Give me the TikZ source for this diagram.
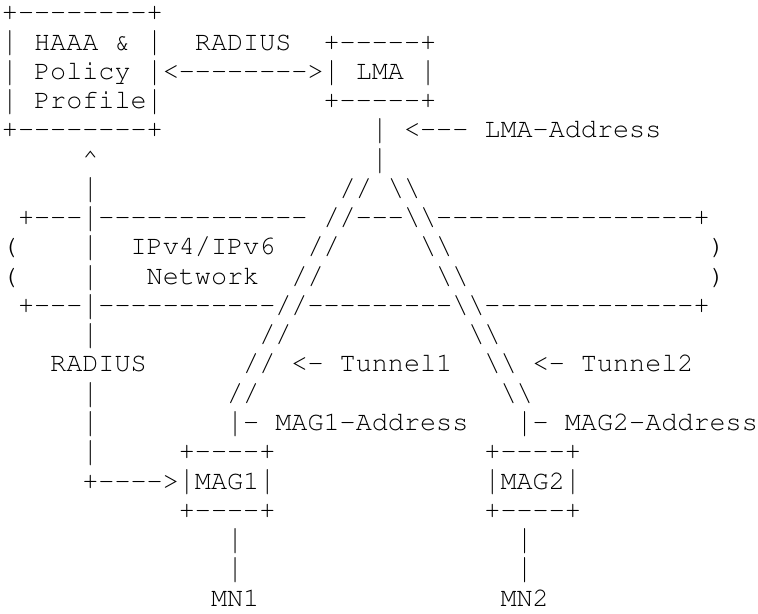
\documentclass[tikz,border=0pt]{standalone}
\usepackage[T1]{fontenc}
\usepackage{courier}
\usetikzlibrary{positioning}
\newcommand{\asciifont}{\fontsize{26.8pt}{29.26pt}\selectfont\ttfamily\frenchspacing}
\newcommand{\dbs}{\textbackslash\textbackslash}
% hyphens one by one, so that no -- ligature is formed
\newcommand{\dashes}[1]{\foreach \k in {1,...,#1}{-}}
% a bar that runs over nearly the whole line, as in the printed figure
\newcommand{\vbar}{\raisebox{-0.07em}[0.74em][0.2em]{\scalebox{1}[1.3]{|}}}

\begin{document}
\begin{tikzpicture}[x=16.08pt, y=-29.26pt,
    chars/.style={anchor=base west, inner sep=0pt, outer sep=0pt, font=\asciifont}
]
    \useasboundingbox (-0.124,-0.711) rectangle (47.01,20.27);

    % HAAA & Policy Profile box and LMA
    \node[chars] (aaaTop) at (0,0) {+\dashes{8}+};
    \node[chars] (aaaRow1) at (0,1) {\vbar{} HAAA \& \vbar};
    \node[chars] (radTop) at (12,1) {RADIUS};
    \node[chars] (lmaTop) at (20,1) {+\dashes{5}+};
    \node[chars] (aaaRow2) at (0,2) {\vbar{} Policy \vbar<\dashes{8}>\vbar{} LMA \vbar};
    \node[chars] (aaaRow3) at (0,3) {\vbar{} Profile\vbar};
    \node[chars] (lmaBot) at (20,3) {+\dashes{5}+};
    \node[chars] (aaaBot) at (0,4) {+\dashes{8}+};
    \node[chars] (lmaAddr) at (23,4) {\vbar{} <\dashes{3} LMA-Address};
    \node[chars] (radUp) at (5,5) {\textasciicircum};
    \node[chars] (lmaLink) at (23,5) {\vbar};
    \node[chars] (radA) at (5,6) {\vbar};
    \node[chars] (tunSplit) at (21,6) {//};
    \node[chars] (tunSplitR) at (24,6) {\dbs};

    % IPv4/IPv6 network cloud
    \node[chars] (netTopL) at (1,7) {+\dashes{3}\vbar\dashes{13}};
    \node[chars] (netTopR) at (20,7) {//\dashes{3}\dbs\dashes{16}+};
    \node[chars] (netL1) at (0,8) {(};
    \node[chars] (radB) at (5,8) {\vbar};
    \node[chars] (netName1) at (8,8) {IPv4/IPv6};
    \node[chars] (tun1a) at (19,8) {//};
    \node[chars] (tun2a) at (26,8) {\dbs};
    \node[chars] (netR1) at (44,8) {)};
    \node[chars] (netL2) at (0,9) {(};
    \node[chars] (radC) at (5,9) {\vbar};
    \node[chars] (netName2) at (9,9) {Network};
    \node[chars] (tun1b) at (18,9) {//};
    \node[chars] (tun2b) at (27,9) {\dbs};
    \node[chars] (netR2) at (44,9) {)};
    \node[chars] (netBot) at (1,10) {+\dashes{3}\vbar\dashes{11}//\dashes{9}\dbs\dashes{13}+};

    % tunnels down to the MAGs
    \node[chars] (radD) at (5,11) {\vbar};
    \node[chars] (tun1c) at (16,11) {//};
    \node[chars] (tun2c) at (29,11) {\dbs};
    \node[chars] (radLabel) at (3,12) {RADIUS};
    \node[chars] (tun1Label) at (15,12) {// <- Tunnel1};
    \node[chars] (tun2Label) at (30,12) {\dbs{} <- Tunnel2};
    \node[chars] (radE) at (5,13) {\vbar};
    \node[chars] (tun1d) at (14,13) {//};
    \node[chars] (tun2d) at (31,13) {\dbs};
    \node[chars] (radF) at (5,14) {\vbar};
    \node[chars] (mag1Addr) at (14,14) {\vbar- MAG1-Address};
    \node[chars] (mag2Addr) at (32,14) {\vbar- MAG2-Address};

    % MAG boxes and mobile nodes
    \node[chars] (radG) at (5,15) {\vbar};
    \node[chars] (mag1Top) at (11,15) {+\dashes{4}+};
    \node[chars] (mag2Top) at (30,15) {+\dashes{4}+};
    \node[chars] (mag1Row) at (5,16) {+\dashes{4}>\vbar{}MAG1\vbar};
    \node[chars] (mag2Row) at (30,16) {\vbar{}MAG2\vbar};
    \node[chars] (mag1Bot) at (11,17) {+\dashes{4}+};
    \node[chars] (mag2Bot) at (30,17) {+\dashes{4}+};
    \node[chars] (mn1a) at (14,18) {\vbar};
    \node[chars] (mn2a) at (32,18) {\vbar};
    \node[chars] (mn1b) at (14,19) {\vbar};
    \node[chars] (mn2b) at (32,19) {\vbar};
    \node[chars] (mn1) at (13,20) {MN1};
    \node[chars] (mn2) at (31,20) {MN2};
\end{tikzpicture}
\end{document}
